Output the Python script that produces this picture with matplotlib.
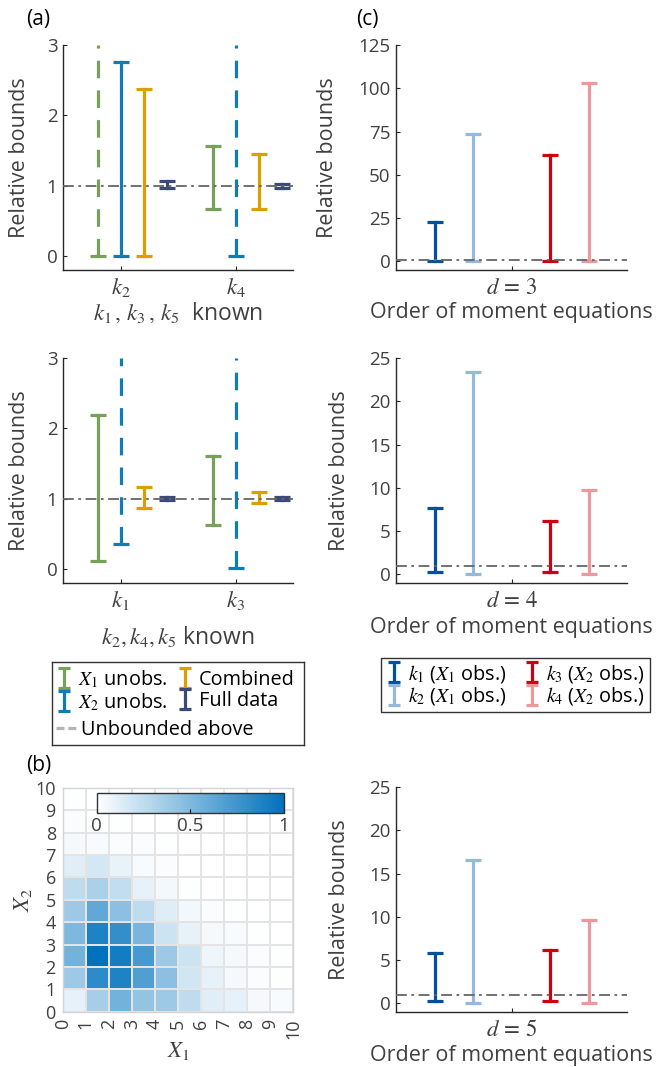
import numpy as np
import matplotlib.pyplot as plt
from matplotlib.colors import LinearSegmentedColormap
from matplotlib.lines import Line2D

plt.rcParams['font.family'] = ['Open Sans', 'DejaVu Sans']
plt.rcParams['mathtext.fontset'] = 'stix'

# ---- data ----
# (a) top: k2, k4 with k1, k3, k5 known   (np.inf = unbounded above)
a1_params = [r'$k_{\mathit{2}}$', r'$k_{\mathit{4}}$']
a1_lo = {'x1': [0.0, 0.67], 'x2': [0.0, 0.0], 'comb': [0.0, 0.67], 'full': [0.96, 0.97]}
a1_hi = {'x1': [np.inf, 1.57], 'x2': [2.76, np.inf], 'comb': [2.37, 1.45], 'full': [1.06, 1.03]}
# (a) bottom: k1, k3 with k2, k4, k5 known
a2_params = [r'$k_{\mathit{1}}$', r'$k_{\mathit{3}}$']
a2_lo = {'x1': [0.11, 0.63], 'x2': [0.36, 0.01], 'comb': [0.87, 0.94], 'full': [0.98, 0.98]}
a2_hi = {'x1': [2.19, 1.60], 'x2': [np.inf, np.inf], 'comb': [1.16, 1.09], 'full': [1.02, 1.02]}

# (c) k1..k4 bounds for moment orders d = 3, 4, 5
orders = [3, 4, 5]
c_lo = [[0.0, 0.0, 0.0, 0.0],
        [0.3, 0.0, 0.3, 0.0],
        [0.3, 0.0, 0.3, 0.0]]
c_hi = [[22.5, 73.5, 61.5, 103.0],
        [7.7, 23.4, 6.2, 9.7],
        [5.8, 16.6, 6.2, 9.6]]
c_ymax = [125, 25, 25]

# (b) joint distribution, rows X2 = 0..9, cols X1 = 0..9
dist = np.array([
    [0.10, 0.35, 0.55, 0.42, 0.38, 0.25, 0.12, 0.10, 0.04, 0.03],
    [0.38, 0.82, 0.88, 0.68, 0.45, 0.18, 0.10, 0.04, 0.02, 0.01],
    [0.55, 1.00, 0.92, 0.72, 0.38, 0.20, 0.07, 0.04, 0.02, 0.01],
    [0.50, 0.88, 0.80, 0.52, 0.20, 0.10, 0.04, 0.03, 0.01, 0.00],
    [0.38, 0.62, 0.45, 0.25, 0.13, 0.05, 0.02, 0.01, 0.00, 0.00],
    [0.25, 0.33, 0.24, 0.10, 0.05, 0.01, 0.00, 0.00, 0.00, 0.00],
    [0.12, 0.17, 0.09, 0.03, 0.02, 0.00, 0.00, 0.00, 0.00, 0.00],
    [0.04, 0.03, 0.02, 0.02, 0.01, 0.00, 0.00, 0.00, 0.00, 0.00],
    [0.02, 0.01, 0.01, 0.00, 0.00, 0.00, 0.00, 0.00, 0.00, 0.00],
    [0.01, 0.00, 0.00, 0.00, 0.00, 0.00, 0.00, 0.00, 0.00, 0.00],
])

# ---- style ----
a_keys = ['x1', 'x2', 'comb', 'full']
a_offsets = [-0.2, 0.0, 0.2, 0.4]
a_colors = {'x1': '#77a05a', 'x2': '#0e7db5', 'comb': '#dba000', 'full': '#3b4a78'}
a_labels = {'x1': r'$X_{\mathit{1}}$ unobs.', 'x2': r'$X_{\mathit{2}}$ unobs.',
            'comb': 'Combined', 'full': 'Full data'}
c_colors = ['#0050a0', '#96b8dc', '#cc0011', '#eb9a9c']
c_offsets = [-1/3, -1/6, 1/6, 1/3]
c_labels = [r'$k_{\mathit{1}}$ ($X_{\mathit{1}}$ obs.)', r'$k_{\mathit{2}}$ ($X_{\mathit{1}}$ obs.)',
            r'$k_{\mathit{3}}$ ($X_{\mathit{2}}$ obs.)', r'$k_{\mathit{4}}$ ($X_{\mathit{2}}$ obs.)']

TXT = '#404040'
LW = 2.3
CAP = 12
TICK_FS = 13.5
LAB_FS = 15.5
MATH_FS = 16.5
LEG_FS = 14.3
REF = dict(color='#666666', lw=1.3, ls=(0, (6, 2.5, 1.5, 2.5)), zorder=5)

W, H = 660, 1067
def rect(l, t, r, b):
    return [l / W, 1 - b / H, (r - l) / W, (b - t) / H]

def style(ax):
    for s in ['top', 'right']:
        ax.spines[s].set_visible(False)
    for s in ['left', 'bottom']:
        ax.spines[s].set_color('#262626')
        ax.spines[s].set_linewidth(1.0)
    ax.tick_params(direction='in', length=3, labelsize=TICK_FS, colors='#262626',
                   labelcolor=TXT, pad=4)

def bound(ax, x, lo, hi, color, top):
    if np.isinf(hi):
        ax.plot([x, x], [lo, top], color=color, lw=LW, ls=(0, (5.5, 3.8)),
                marker='_', ms=CAP, mew=LW, markevery=[0], clip_on=False)
    else:
        ax.plot([x, x], [lo, hi], color=color, lw=LW, marker='_', ms=CAP,
                mew=LW, clip_on=False)

fig = plt.figure(figsize=(6.6, 10.67), dpi=100)

# ---- (a) panels ----
a_panels = [((45, 270), a1_params, a1_lo, a1_hi,
             r'$k_{\mathit{1}}\,,\,k_{\mathit{3}}\,,\,k_{\mathit{5}}$  known', 313),
            ((358, 583), a2_params, a2_lo, a2_hi,
             r'$k_{\mathit{2}},k_{\mathit{4}},k_{\mathit{5}}$ known', 637)]
for (t, b), params, lo, hi, xlab, xlab_y in a_panels:
    ax = fig.add_axes(rect(63, t, 293, b))
    style(ax)
    ax.set_xlim(0.5, 2.5)
    ax.set_ylim(-0.2, 3)
    ax.axhline(1, **REF)
    for key, off in zip(a_keys, a_offsets):
        for i in range(len(params)):
            bound(ax, i + 1 + off, lo[key][i], hi[key][i], a_colors[key], 3)
    ax.set_xticks([1, 2])
    ax.set_xticklabels(params, fontsize=MATH_FS)
    ax.set_yticks([0, 1, 2, 3])
    ax.set_ylabel('Relative bounds', fontsize=LAB_FS, color=TXT)
    ax.yaxis.set_label_coords(-0.143, 0.5)
    ax.set_xlabel(xlab, fontsize=MATH_FS, color=TXT)
    ax.xaxis.label.set_va('center')
    ax.xaxis.set_label_coords(0.5, (b - xlab_y) / (b - t))

# legend (a)
lax = fig.add_axes(rect(52, 662, 304, 745))
lax.set_xticks([])
lax.set_yticks([])
for s in lax.spines.values():
    s.set_color('#333333')
    s.set_linewidth(1.0)
handles = []
for key in a_keys:
    h = lax.errorbar([np.nan], [np.nan], yerr=[[0.5], [0.5]], fmt='none',
                     ecolor=a_colors[key], elinewidth=LW, capsize=4.5, capthick=LW)
    handles.append(h)
leg1 = lax.legend(handles, [a_labels[k] for k in a_keys], ncol=2, loc='center left',
                  bbox_to_anchor=(0, 0.655), frameon=False, fontsize=LEG_FS,
                  handlelength=0.8, handletextpad=0.3, columnspacing=0.5,
                  borderaxespad=0.0, labelspacing=0.05, borderpad=0.2)
lax.add_artist(leg1)
ub = Line2D([], [], color='#b5b5b5', lw=LW, ls=(0, (2.5, 1.2)))
lax.legend([ub], ['Unbounded above'], loc='center left', bbox_to_anchor=(0, 0.18),
           frameon=False, fontsize=LEG_FS, handlelength=1.1, handletextpad=0.15,
           borderaxespad=0.0, borderpad=0.2)

# ---- (b) heatmap ----
bax = fig.add_axes(rect(62.7, 787.7, 293.3, 1011.7))
cmap = LinearSegmentedColormap.from_list('wb', ['#ffffff', '#0072bd'])
edges = np.arange(11)
mesh = bax.pcolormesh(edges, edges, dist, cmap=cmap, vmin=0, vmax=1,
                      edgecolors='#e4e4e4', linewidth=1.3)
bax.set_xticks(edges)
bax.set_yticks(edges)
bax.set_xticklabels([str(v) for v in edges], rotation=90)
bax.tick_params(length=0, labelsize=13, labelcolor=TXT)
bax.tick_params(axis='x', pad=5)
bax.tick_params(axis='y', pad=5)
for s in bax.spines.values():
    s.set_color('#d4d4d4')
    s.set_linewidth(1.0)
bax.set_xlabel(r'$X_{\mathit{1}}$', fontsize=MATH_FS, color=TXT, labelpad=0)
bax.set_ylabel(r'$X_{\mathit{2}}$', fontsize=MATH_FS, color=TXT, labelpad=0)

cax = fig.add_axes(rect(96.7, 792.7, 284, 813.3))
cb = fig.colorbar(mesh, cax=cax, orientation='horizontal', ticks=[0, 0.5, 1])
cb.ax.set_xticklabels(['0', '0.5', '1'])
cb.ax.tick_params(direction='in', length=3, labelsize=TICK_FS, labelcolor=TXT, pad=3)
cb.outline.set_edgecolor('#333333')
cb.outline.set_linewidth(1.0)

# ---- (c) panels ----
c_pos = [(45, 270, 313), (358, 583, 628), (787, 1012, 1055)]
c_handles = []
for j, d in enumerate(orders):
    t, b, xlab_y = c_pos[j]
    ax = fig.add_axes(rect(396, t, 627, b))
    style(ax)
    ax.set_xlim(0.5, 1.5)
    ymax = c_ymax[j]
    ax.set_ylim(-ymax * 0.04, ymax)
    ax.axhline(1, **REF)
    for i in range(4):
        bound(ax, 1 + c_offsets[i], c_lo[j][i], c_hi[j][i], c_colors[i], ymax)
    ax.set_xticks([1])
    ax.set_xticklabels([rf'$d\,=\,{d}$'], fontsize=MATH_FS)
    ax.set_yticks(np.linspace(0, ymax, 6))
    ax.set_ylabel('Relative bounds', fontsize=LAB_FS, color=TXT)
    ax.yaxis.set_label_coords(-0.25 if ymax > 100 else -0.2, 0.5)
    ax.set_xlabel('Order of moment equations', fontsize=LAB_FS, color=TXT)
    ax.xaxis.label.set_va('center')
    ax.xaxis.set_label_coords(0.5, (b - xlab_y) / (b - t))
    if j == 0:
        for i in range(4):
            h = ax.errorbar([np.nan], [np.nan], yerr=[[0.5], [0.5]], fmt='none',
                            ecolor=c_colors[i], elinewidth=LW, capsize=4.5, capthick=LW)
            c_handles.append(h)

leg_c = fig.legend(c_handles, c_labels, ncol=2, loc='center',
                   bbox_to_anchor=rect(373, 660, 658, 710), fontsize=LEG_FS,
                   handlelength=0.8, handletextpad=0.3, columnspacing=0.9,
                   labelspacing=0.05, borderpad=0.25, fancybox=False, framealpha=1)
leg_c.get_frame().set_edgecolor('#333333')
leg_c.get_frame().set_linewidth(1.0)

# panel letters
fig.text(26 / W, 1 - 20 / H, '(a)', fontsize=15, va='center')
fig.text(26 / W, 1 - 765 / H, '(b)', fontsize=15, va='center')
fig.text(356 / W, 1 - 20 / H, '(c)', fontsize=15, va='center')

fig.savefig('out.png', dpi=100)
